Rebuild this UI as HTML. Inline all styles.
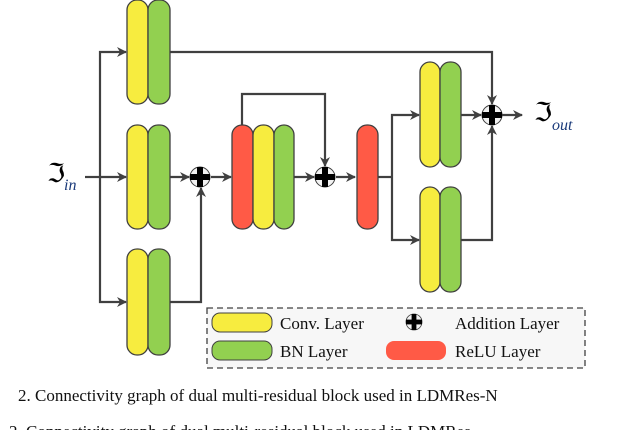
<!DOCTYPE html>
<html><head><meta charset="utf-8"><style>
body{margin:0;background:#fff;width:632px;height:430px;overflow:hidden}
svg{display:block}
text{font-family:"Liberation Serif",serif}
</style></head><body>
<svg width="632" height="430" viewBox="0 0 632 430" xmlns="http://www.w3.org/2000/svg">
<defs>
<marker id="a" markerWidth="10" markerHeight="10" refX="9" refY="5" orient="auto" markerUnits="userSpaceOnUse"><path d="M0,0 L10,5 L0,10 L3,5 Z" fill="#404040"/></marker>
<g id="plus"><circle r="10" fill="#f2f2f2" stroke="#404040" stroke-width="1"/><rect x="-10" y="-3" width="20" height="6" fill="#000"/><rect x="-3" y="-10" width="6" height="20" fill="#000"/></g>
</defs>
<g stroke="#404040" stroke-width="2.2" fill="none">
<path d="M85,177 H100"/>
<path d="M100,177 V52 H126" marker-end="url(#a)"/>
<path d="M100,177 H126" marker-end="url(#a)"/>
<path d="M100,177 V302 H126" marker-end="url(#a)"/>
<path d="M170,177 H189" marker-end="url(#a)"/>
<path d="M170,302 H201 V188" marker-end="url(#a)"/>
<path d="M211,177 H231" marker-end="url(#a)"/>
<path d="M242,125 V94 H325 V166" marker-end="url(#a)"/>
<path d="M294,177 H314" marker-end="url(#a)"/>
<path d="M336,177 H355" marker-end="url(#a)"/>
<path d="M378,177 H392"/>
<path d="M392,177 V115 H419" marker-end="url(#a)"/>
<path d="M392,177 V240 H419" marker-end="url(#a)"/>
<path d="M170,52 H492 V104" marker-end="url(#a)"/>
<path d="M461,115 H481" marker-end="url(#a)"/>
<path d="M461,240 H492 V126" marker-end="url(#a)"/>
<path d="M502,115 H522" marker-end="url(#a)"/>
</g>
<g stroke="#404040" stroke-width="1.3">
<rect x="127" y="0" width="21" height="104" rx="10" fill="#f7ec3f"/><rect x="148" y="0" width="22" height="104" rx="10" fill="#92d050"/>
<rect x="127" y="125" width="21" height="104" rx="10" fill="#f7ec3f"/><rect x="148" y="125" width="22" height="104" rx="10" fill="#92d050"/>
<rect x="127" y="249" width="21" height="106" rx="10" fill="#f7ec3f"/><rect x="148" y="249" width="22" height="106" rx="10" fill="#92d050"/>
<rect x="232" y="125" width="21" height="104" rx="10" fill="#ff5a46"/><rect x="253" y="125" width="21" height="104" rx="10" fill="#f7ec3f"/><rect x="274" y="125" width="20" height="104" rx="10" fill="#92d050"/>
<rect x="357" y="125" width="21" height="104" rx="10" fill="#ff5a46"/>
<rect x="420" y="62" width="20" height="105" rx="10" fill="#f7ec3f"/><rect x="440" y="62" width="21" height="105" rx="10" fill="#92d050"/>
<rect x="420" y="187" width="20" height="105" rx="10" fill="#f7ec3f"/><rect x="440" y="187" width="21" height="105" rx="10" fill="#92d050"/>
</g>
<use href="#plus" x="200" y="177"/>
<use href="#plus" x="325" y="177"/>
<use href="#plus" x="492" y="115"/>
<text x="47" y="182" font-size="26">ℑ</text><text x="64" y="190" font-size="16" font-style="italic" fill="#1a3a7a">in</text>
<text x="534" y="121" font-size="26">ℑ</text><text x="552" y="130" font-size="16" font-style="italic" fill="#1a3a7a">out</text>
<rect x="207" y="308" width="378" height="60" fill="#f7f7f7" stroke="#404040" stroke-width="1.3" stroke-dasharray="6,4"/>
<rect x="212" y="313" width="60" height="19" rx="8" fill="#f7ec3f" stroke="#404040"/>
<rect x="212" y="341" width="60" height="19" rx="8" fill="#92d050" stroke="#404040"/>
<rect x="386" y="341" width="60" height="19" rx="8" fill="#ff5a46"/>
<use href="#plus" x="414" y="322" transform="translate(414 322) scale(0.8) translate(-414 -322)"/>
<g font-size="17" fill="#111">
<text x="280" y="329">Conv. Layer</text>
<text x="280" y="357">BN Layer</text>
<text x="455" y="329">Addition Layer</text>
<text x="455" y="357">ReLU Layer</text>
</g>
<g font-size="17" fill="#111">
<text x="18" y="401">2.  Connectivity graph of dual multi-residual block used in LDMRes-N</text>
<text x="-8" y="437">g. 2.  Connectivity graph of dual multi-residual block used in LDMRes</text>
</g>
</svg>
</body></html>
